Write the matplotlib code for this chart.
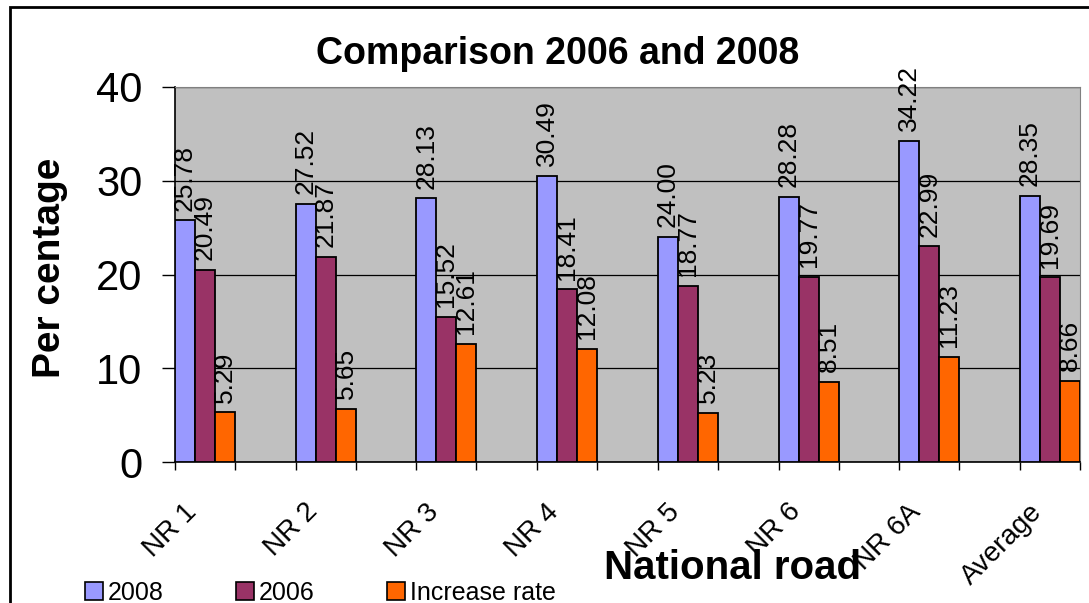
import matplotlib.pyplot as plt
import numpy as np
from matplotlib.patches import Rectangle, Patch

plt.rcParams['font.family'] = ['Liberation Sans', 'DejaVu Sans']

roads = ['NR 1', 'NR 2', 'NR 3', 'NR 4', 'NR 5', 'NR 6', 'NR 6A', 'Average']
y2008 = [25.78, 27.52, 28.13, 30.49, 24.00, 28.28, 34.22, 28.35]
y2006 = [20.49, 21.87, 15.52, 18.41, 18.77, 19.77, 22.99, 19.69]
increase = [5.29, 5.65, 12.61, 12.08, 5.23, 8.51, 11.23, 8.66]

series = [('2008', y2008, '#9999FF'),
          ('2006', y2006, '#993366'),
          ('Increase rate', increase, '#FF6600')]

W, H = 1089, 603
fig = plt.figure(figsize=(W / 100, H / 100), dpi=100)
ax = fig.add_axes([175 / W, (H - 462) / H, 905 / W, 375 / H])
ax.set_facecolor('#C0C0C0')

x = np.arange(len(roads))
bw = 0.1657  # each group takes half a category slot

for k, (name, vals, col) in enumerate(series):
    bars = ax.bar(x + k * bw, vals, bw, align='edge', color=col,
                  edgecolor='black', linewidth=1.3, label=name, zorder=3)
    for b, v in zip(bars, vals):
        ax.annotate('%.2f' % v, (b.get_x() + b.get_width() / 2, v),
                    xytext=(0, 7), textcoords='offset points',
                    rotation=90, ha='center', va='bottom', fontsize=19,
                    zorder=4)

ax.set_xlim(0, len(roads) - 1 + 3 * bw)
ax.set_ylim(0, 40)
ax.set_yticks([0, 10, 20, 30, 40])
ax.tick_params(axis='y', labelsize=30, length=9.4, width=1, pad=14,
               direction='out')
ax.yaxis.grid(True, color='black', linewidth=0.9, zorder=1)

# tick marks at group edges, labels hung under each group
ax.set_xticks(x + 1.5 * bw - 0.1)
ax.set_xticklabels(roads, rotation=45, ha='right', va='center',
                   rotation_mode='anchor', fontsize=20)
ax.tick_params(axis='x', which='major', length=0, pad=33)
ax.tick_params(axis='x', which='minor', length=6, width=1)
ax.set_xticks(np.r_[x, x + 3 * bw], minor=True)

for s in ['top', 'right']:
    ax.spines[s].set_color('#808080')
for s in ['left', 'bottom']:
    ax.spines[s].set_color('black')
    ax.spines[s].set_linewidth(1.2)

fig.text(558 / W, 1 - 54 / H, 'Comparison 2006 and 2008', ha='center',
         va='center', fontsize=27, fontweight='bold')
fig.text(50 / W, 1 - 268 / H, 'Per centage', ha='center', va='center',
         rotation=90, fontsize=28, fontweight='bold')
fig.text(733 / W, 1 - 568 / H, 'National road', ha='center', va='center',
         fontsize=29, fontweight='bold')

handles = [Patch(facecolor=c, edgecolor='black', linewidth=1.2, label=n)
           for n, _, c in series]
fig.legend(handles=handles, ncol=3, loc='center left',
           bbox_to_anchor=(72 / W, 1 - 593 / H), frameon=False, fontsize=18,
           handlelength=0.72, handleheight=0.72, handletextpad=0.2,
           columnspacing=2.9, borderpad=0)

# outer chart frame
fig.patches.append(Rectangle((10 / W, -0.05), 1.2, 1 - 7 / H + 0.05,
                             transform=fig.transFigure, fill=False,
                             edgecolor='black', linewidth=2))

fig.savefig('out.png', dpi=100)
